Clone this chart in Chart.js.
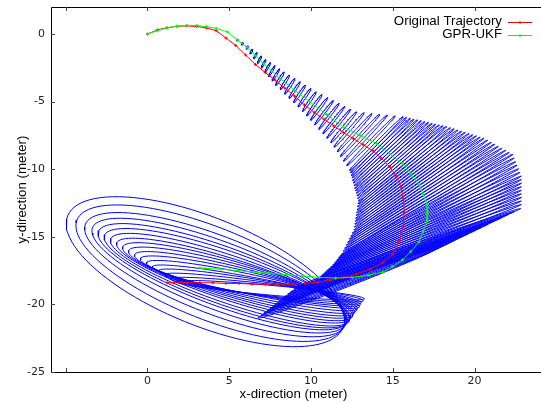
<!DOCTYPE html>
<html>
<head>
<meta charset="utf-8">
<script src="https://cdn.jsdelivr.net/npm/chart.js@4.4.0/dist/chart.umd.min.js"></script>
<style>
  html, body { margin: 0; padding: 0; background: #fff; }
</style>
</head>
<body>
<canvas id="trajChart" width="541" height="403"></canvas>
<script>
// true path
const trueX = [0, 0.6, 1.2, 1.8, 2.4, 3.0, 3.6, 4.2, 4.8, 5.4, 6.0, 6.6, 7.2, 7.8, 8.4, 9.0, 9.6, 10.2, 10.8, 11.4, 12.0, 12.6, 13.2, 13.8, 14.3, 14.8, 15.2, 15.5, 15.65, 15.7, 15.65, 15.4, 15.0, 14.4, 13.6, 12.8, 12.0, 11.2, 10.4, 9.6, 8.8, 8.0, 7.2, 6.4, 5.6, 4.8, 4.0, 3.2, 2.4, 1.6, 1.2];
const trueY = [0, 0.3, 0.47, 0.57, 0.6, 0.56, 0.45, 0.25, -0.3, -0.85, -1.55, -2.25, -2.85, -3.4, -4.0, -4.6, -5.25, -5.8, -6.3, -6.8, -7.3, -7.75, -8.2, -8.65, -9.2, -9.8, -10.5, -11.3, -12.2, -13.2, -14.2, -15.3, -16.3, -16.9, -17.4, -17.75, -18.0, -18.2, -18.35, -18.45, -18.5, -18.5, -18.5, -18.5, -18.45, -18.45, -18.4, -18.4, -18.4, -18.4, -18.4];

// filter estimate
const ukfX = [0, 0.6, 1.2, 1.8, 2.4, 3.0, 3.6, 4.2, 4.9, 5.5, 6.1, 6.6, 7.1, 7.6, 8.1, 9.0, 9.9, 10.95, 12.0, 13.0, 14.0, 14.8, 15.6, 16.1, 16.6, 16.85, 17.1, 17.1, 17.1, 16.85, 16.6, 16.1, 15.6, 15.0, 14.4, 13.5, 12.5, 11.5, 10.5, 9.5, 8.5, 7.5, 6.5, 5.5, 4.5, 3.5, 3.2];
const ukfY = [0, 0.25, 0.45, 0.58, 0.64, 0.63, 0.55, 0.42, 0.15, -0.45, -1.0, -1.6, -2.2, -2.75, -3.3, -4.15, -5.0, -5.95, -6.9, -7.5, -8.1, -8.85, -9.6, -10.35, -11.1, -11.85, -12.6, -13.2, -13.8, -14.6, -15.4, -16.1, -16.7, -17.2, -17.6, -17.85, -18.0, -18.05, -18.0, -17.9, -17.8, -17.7, -17.6, -17.5, -17.4, -17.33, -17.3];

// covariance ellipses: centre, major semi-axis vector, minor semi-axis
const ellCx = [
  5.5, 5.8, 6.1, 6.35, 6.6, 6.85, 7.1, 7.35, 7.6, 7.85, 8.1, 8.4, 8.7, 9.0, 9.3, 9.6,
  9.9, 10.2, 10.5, 10.8, 11.1, 11.4, 11.7, 12.0, 12.33, 12.67, 13.0, 13.33, 13.67,
  14.0, 14.27, 14.53, 14.8, 15.07, 15.33, 15.6, 15.8, 16.0, 16.2, 16.4,
  16.6, 16.73, 16.85, 16.98, 17.1, 17.1, 17.1, 17.1, 16.98, 16.85, 16.73, 16.6,
  14.13, 14.4, 14.67, 14.93, 15.2, 15.46, 15.7, 15.9, 16.1, 16.3, 16.5,
  16.66, 16.79, 16.91, 17.04, 17.1, 17.1, 17.1, 17.04, 16.91, 16.79, 16.66,
  15.98, 15.69, 15.4, 15.11, 14.82, 14.53, 14.24, 13.95, 13.66, 13.37, 13.08, 12.78, 12.49, 12.2,
  7.51, 7.29, 7.05, 6.84, 6.63, 6.39, 6.17, 5.93, 5.72, 5.51, 5.27, 5.05, 4.84, 4.6, 4.39, 4.15, 3.84, 3.54];
const ellCy = [
  -0.45, -0.72, -1.0, -1.3, -1.6, -1.9, -2.2, -2.48, -2.75, -3.03, -3.3, -3.58, -3.87, -4.15, -4.43, -4.72,
  -5.0, -5.27, -5.54, -5.81, -6.09, -6.36, -6.63, -6.9, -7.1, -7.3, -7.5, -7.7, -7.9,
  -8.1, -8.35, -8.6, -8.85, -9.1, -9.35, -9.6, -9.9, -10.2, -10.5, -10.8,
  -11.1, -11.48, -11.85, -12.23, -12.6, -13.0, -13.4, -13.8, -14.2, -14.6, -15.0, -15.4,
  -8.22, -8.47, -8.72, -8.97, -9.22, -9.47, -9.75, -10.05, -10.35, -10.65, -10.95,
  -11.29, -11.66, -12.04, -12.41, -12.8, -13.2, -13.6, -14.0, -14.4, -14.8, -15.2,
  -15.8, -16.0, -16.21, -16.41, -16.61, -16.82, -17.02, -17.23, -17.43, -17.63, -17.84, -18.04, -18.24, -18.45,
  -18.95, -18.91, -18.84, -18.76, -18.69, -18.61, -18.54, -18.47, -18.39, -18.32, -18.24, -18.17, -18.06, -17.95, -17.87, -17.8, -17.69, -17.58];
const ellUx = [
  0.03, 0.04, 0.05, 0.07, 0.1, 0.12, 0.14, 0.17, 0.2, 0.23, 0.26, 0.28, 0.31, 0.34, 0.36, 0.39,
  0.42, 0.47, 0.52, 0.57, 0.62, 0.67, 0.73, 0.78, 0.92, 1.06, 1.2, 1.34, 1.48,
  1.63, 1.8, 1.98, 2.16, 2.34, 2.51, 2.69, 2.95, 3.2, 3.46, 3.71,
  3.97, 4.29, 4.6, 4.92, 5.24, 5.41, 5.59, 5.76, 5.89, 6.01, 6.14, 6.26,
  1.71, 1.89, 2.07, 2.25, 2.42, 2.6, 2.82, 3.07, 3.33, 3.58, 3.84,
  4.13, 4.44, 4.76, 5.08, 5.32, 5.5, 5.67, 5.82, 5.95, 6.07, 6.2,
  6.84, 6.73, 6.62, 6.51, 6.4, 6.3, 6.19, 6.08, 5.97, 5.86, 5.75, 5.64, 5.53, 5.42,
  5.75, 5.9, 6.02, 6.17, 6.33, 6.45, 6.6, 6.72, 6.87, 7.02, 7.14, 7.29, 7.45, 7.57, 7.72, 7.9, 8.08, 8.32];
const ellUy = [
  0.07, 0.1, 0.13, 0.18, 0.23, 0.28, 0.33, 0.37, 0.42, 0.46, 0.5, 0.54, 0.58, 0.62, 0.65, 0.69,
  0.73, 0.79, 0.84, 0.9, 0.96, 1.02, 1.08, 1.14, 1.28, 1.42, 1.56, 1.71, 1.85,
  1.99, 2.12, 2.25, 2.38, 2.5, 2.63, 2.76, 2.89, 3.02, 3.14, 3.27,
  3.4, 3.48, 3.55, 3.63, 3.7, 3.56, 3.43, 3.29, 3.17, 3.04, 2.92, 2.79,
  2.05, 2.18, 2.31, 2.44, 2.56, 2.69, 2.82, 2.95, 3.08, 3.2, 3.33,
  3.44, 3.51, 3.59, 3.66, 3.63, 3.5, 3.36, 3.23, 3.1, 2.98, 2.85,
  2.89, 2.86, 2.84, 2.81, 2.79, 2.76, 2.73, 2.71, 2.68, 2.66, 2.63, 2.6, 2.58, 2.55,
  -0.63, -0.81, -1.04, -1.26, -1.48, -1.7, -1.93, -2.15, -2.37, -2.59, -2.81, -3.04, -3.22, -3.41, -3.63, -3.85, -4.11, -4.37];
const ellB = [
  0.05, 0.05, 0.05, 0.05, 0.05, 0.05, 0.05, 0.05, 0.05, 0.05, 0.07, 0.07, 0.07, 0.07, 0.07, 0.07,
  0.07, 0.07, 0.07, 0.07, 0.07, 0.07, 0.07, 0.09, 0.09, 0.09, 0.09, 0.09, 0.09,
  0.09, 0.09, 0.09, 0.09, 0.09, 0.09, 0.11, 0.11, 0.11, 0.11, 0.11,
  0.11, 0.11, 0.11, 0.11, 0.11, 0.13, 0.13, 0.13, 0.13, 0.13, 0.13, 0.13,
  0.09, 0.09, 0.09, 0.09, 0.09, 0.09, 0.11, 0.11, 0.11, 0.11, 0.11,
  0.11, 0.11, 0.11, 0.11, 0.13, 0.13, 0.13, 0.13, 0.13, 0.13, 0.13,
  0.15, 0.15, 0.16, 0.16, 0.17, 0.17, 0.18, 0.18, 0.19, 0.2, 0.21, 0.22, 0.23, 0.24,
  0.36, 0.43, 0.5, 0.57, 0.64, 0.79, 0.93, 1.07, 1.21, 1.36, 1.5, 1.71, 1.93, 2.14, 2.43, 2.79, 3.29, 3.86];

const xTicks = [-5, 0, 5, 10, 15, 20];
const yTicks = [0, -5, -10, -15, -20, -25];
const seriesNames = ['Original Trajectory', 'GPR-UKF'];

const RED = 'rgb(255,0,0)';
const GREEN = 'rgb(0,255,0)';
const BLUE = 'rgb(0,0,255)';

function toPoints(xs, ys) {
  return xs.map((x, i) => ({ x: x, y: ys[i] }));
}

// outline of one ellipse in data coordinates
function ellipseOutline(i, steps) {
  const ux = ellUx[i], uy = ellUy[i];
  const len = Math.hypot(ux, uy);
  const vx = -uy / len * ellB[i], vy = ux / len * ellB[i];
  const pts = [];
  for (let s = 0; s <= steps; s++) {
    const t = s / steps * Math.PI * 2;
    pts.push({
      x: ellCx[i] + ux * Math.cos(t) + vx * Math.sin(t),
      y: ellCy[i] + uy * Math.cos(t) + vy * Math.sin(t)
    });
  }
  return pts;
}

const ellipseSets = ellCx.map((_, i) => ({
  type: 'scatter',
  data: ellipseOutline(i, 100),
  showLine: true,
  borderColor: BLUE,
  borderWidth: 1,
  pointRadius: 0,
  tension: 0,
  order: 3
}));

// gnuplot style frame with inward ticks
const framePlugin = {
  id: 'frame',
  afterDatasetsDraw(chart) {
    const { ctx, chartArea: a, scales: { x, y } } = chart;
    const right = chart.width;
    ctx.save();
    ctx.strokeStyle = '#000';
    ctx.lineWidth = 1;
    ctx.beginPath();
    ctx.moveTo(right, a.top + 0.5);
    ctx.lineTo(a.left + 0.5, a.top + 0.5);
    ctx.lineTo(a.left + 0.5, a.bottom + 0.5);
    ctx.lineTo(right, a.bottom + 0.5);
    ctx.stroke();
    ctx.strokeStyle = '#444';
    ctx.beginPath();
    xTicks.forEach(v => {
      const px = Math.round(x.getPixelForValue(v)) + 0.5;
      ctx.moveTo(px, a.bottom);
      ctx.lineTo(px, a.bottom - 4);
      ctx.moveTo(px, a.top);
      ctx.lineTo(px, a.top + 4);
    });
    yTicks.forEach(v => {
      const py = Math.round(y.getPixelForValue(v)) + 0.5;
      ctx.moveTo(a.left, py);
      ctx.lineTo(a.left + 4, py);
    });
    ctx.stroke();
    ctx.restore();
  }
};

// key in the top right corner: text right aligned, then a line sample
const keyPlugin = {
  id: 'key',
  afterDraw(chart) {
    const ctx = chart.ctx;
    const colors = [RED, GREEN];
    ctx.save();
    ctx.font = '13.3px "Liberation Sans", Arial, sans-serif';
    ctx.fillStyle = '#000';
    ctx.textAlign = 'right';
    ctx.textBaseline = 'alphabetic';
    seriesNames.forEach((name, i) => {
      const base = 25 + i * 13;
      ctx.fillText(name, 502, base);
      const ly = base - 3;
      ctx.strokeStyle = colors[i];
      ctx.lineWidth = 1;
      ctx.beginPath();
      ctx.moveTo(508, ly + 0.5);
      ctx.lineTo(532, ly + 0.5);
      ctx.moveTo(520, ly - 1);
      ctx.lineTo(520, ly + 2);
      ctx.stroke();
    });
    ctx.restore();
  }
};

new Chart(document.getElementById('trajChart'), {
  type: 'scatter',
  data: {
    datasets: [
      {
        label: seriesNames[0],
        data: toPoints(trueX, trueY),
        showLine: true,
        borderColor: RED,
        borderWidth: 1,
        pointStyle: 'cross',
        pointRadius: 1.5,
        pointBorderColor: RED,
        pointBorderWidth: 1,
        order: 2
      },
      {
        label: seriesNames[1],
        data: toPoints(ukfX, ukfY),
        showLine: true,
        borderColor: GREEN,
        borderWidth: 1,
        pointStyle: 'cross',
        pointRadius: 1.5,
        pointBorderColor: GREEN,
        pointBorderWidth: 1,
        order: 1
      },
      ...ellipseSets
    ]
  },
  options: {
    responsive: false,
    animation: false,
    devicePixelRatio: 1,
    layout: { padding: { top: 7, right: 0, left: 0, bottom: 0 } },
    plugins: {
      legend: { display: false },
      tooltip: { enabled: false }
    },
    scales: {
      x: {
        type: 'linear',
        min: -5.9,
        max: 23.76,
        grid: { display: false, drawTicks: false },
        border: { display: false },
        afterBuildTicks: s => { s.ticks = xTicks.map(v => ({ value: v })); },
        afterFit: s => {
          s.height = 31;
          s.paddingLeft = 0;
          s.paddingRight = 0;
        },
        ticks: {
          padding: 3,
          color: '#222',
          font: { family: '"DejaVu Sans"', size: 11 },
          maxRotation: 0,
          callback: v => (v === -5 ? '' : v)
        },
        title: {
          display: true,
          text: 'x-direction (meter)',
          color: '#000',
          font: { family: '"Liberation Sans"', size: 13.3 },
          padding: { top: 0, bottom: 1 }
        }
      },
      y: {
        type: 'linear',
        min: -25,
        max: 2,
        grid: { display: false, drawTicks: false },
        border: { display: false },
        afterBuildTicks: s => { s.ticks = yTicks.map(v => ({ value: v })); },
        afterFit: s => {
          s.width = 51;
          s.paddingTop = 0;
          s.paddingBottom = 0;
        },
        ticks: {
          padding: 6,
          color: '#222',
          font: { family: '"DejaVu Sans"', size: 11 }
        },
        title: {
          display: true,
          text: 'y-direction (meter)',
          color: '#000',
          font: { family: '"Liberation Sans"', size: 13.3 },
          padding: { top: 14, bottom: 0 }
        }
      }
    }
  },
  plugins: [framePlugin, keyPlugin]
});
</script>
</body>
</html>
